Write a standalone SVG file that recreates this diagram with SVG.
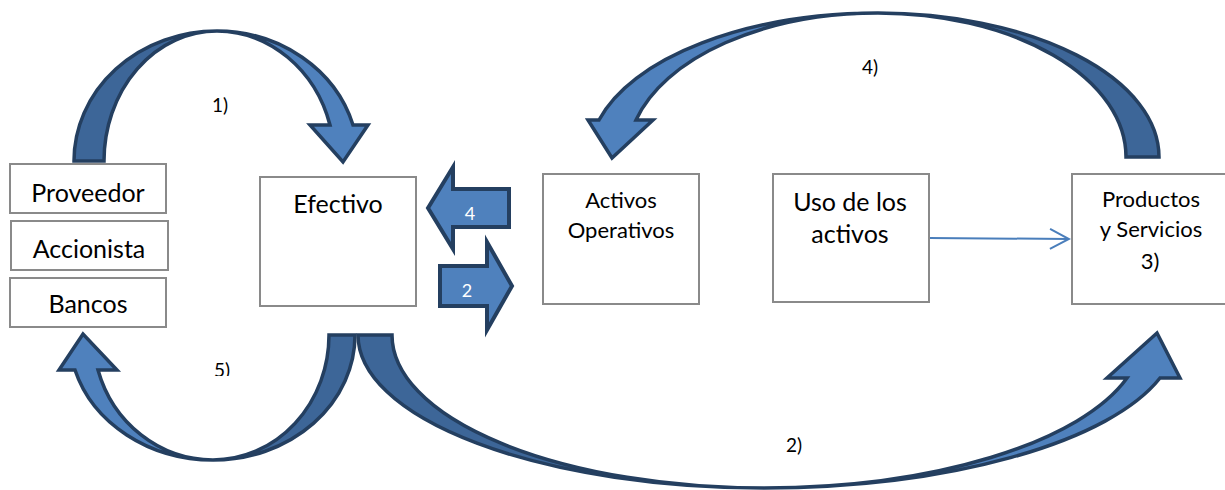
<svg xmlns="http://www.w3.org/2000/svg" width="1225" height="490" viewBox="0 0 1225 490">
<style>
.box{fill:#fff;stroke:#8a8a8a;stroke-width:2}
.t{font-family:Lato,"Liberation Sans",sans-serif;fill:#000;text-anchor:middle}
.big{font-size:25px}
.mid{font-size:22px}
.lbl{font-size:19px}
.back{fill:#3d6698;stroke:#243f60;stroke-width:3.5;stroke-linejoin:miter}
.front{fill:#4f81bd;stroke:#243f60;stroke-width:3.5;stroke-linejoin:miter}
.blk{fill:#4f81bd;stroke:#243f60;stroke-width:4;stroke-linejoin:miter}
.w{font-family:Lato,"Liberation Sans",sans-serif;font-size:18px;fill:#fff;text-anchor:middle}
</style>
<defs>
<marker id="open" markerWidth="22" markerHeight="24" refX="20" refY="12" orient="auto" markerUnits="userSpaceOnUse">
<path d="M1,2 L20,12 L1,22" fill="none" stroke="#4a7ebb" stroke-width="2"/>
</marker>
<clipPath id="clip5"><rect x="190" y="340" width="60" height="36"/></clipPath>
</defs>
<g id="connectors">
<g id="arrow1">
<path class="back" d="M74,161 A143,130 0 0 1 217,31 A113,130 0 0 0 104,161 Z"/>
<path class="front" d="M217,31 A142,130 0 0 1 353,125 L368,125 L343,162 L310,125 L330,125 A118,130 0 0 0 217,31 Z"/>
</g>
<g id="arrow4">
<path class="back" d="M1159,157 A281,144 0 0 0 878,13 A248,144 0 0 1 1126,157 Z"/>
<path class="front" d="M878,13 A289,144 0 0 0 599,120 L588,120 L612,158 L653,120 L636,120 A250,144 0 0 1 878,13 Z"/>
</g>
<g id="arrow5">
<path class="back" d="M355,335 A142,125 0 0 1 213,460 A116,125 0 0 0 329,335 Z"/>
<path class="front" d="M213,460 A144,125 0 0 1 75,370 L59,370 L83,334 L117,370 L98,370 A120,125 0 0 0 213,460 Z"/>
</g>
<g id="arrow2">
<path class="back" d="M358,335 A406,153 0 0 0 764,488 A372,153 0 0 1 392,335 Z"/>
<path class="front" d="M764,488 A413,153 0 0 0 1160,378 L1180,378 L1157,333 L1107,378 L1127,378 A378,153 0 0 1 764,488 Z"/>
</g>
<g id="arrowL4">
<path class="blk" d="M428,208 L453,167 L453,189 L509,189 L509,227 L453,227 L453,249 Z"/>
<text class="w" x="470" y="220">4</text>
</g>
<g id="arrowR2">
<path class="blk" d="M440,266 L487,266 L487,242 L512,286 L487,330 L487,306 L440,306 Z"/>
<text class="w" x="467" y="297">2</text>
</g>
<line x1="929" y1="238" x2="1069" y2="239" stroke="#4a7ebb" stroke-width="2" marker-end="url(#open)"/>
<text class="t lbl" x="220" y="112">1)</text>
<text class="t lbl" x="870" y="74">4)</text>
<text class="t lbl" x="222" y="377" clip-path="url(#clip5)">5)</text>
<text class="t lbl" x="794" y="452">2)</text>
</g>
<g id="proveedor">
<rect class="box" x="10" y="164" width="156" height="49"/>
<text class="t big" x="88" y="202">Proveedor</text>
</g>
<g id="accionista">
<rect class="box" x="11" y="221" width="157" height="49"/>
<text class="t big" x="89" y="258">Accionista</text>
</g>
<g id="bancos">
<rect class="box" x="10" y="278" width="156" height="49"/>
<text class="t big" x="88" y="313">Bancos</text>
</g>
<g id="efectivo">
<rect class="box" x="260" y="177" width="156" height="129"/>
<text class="t big" x="338" y="213">Efectivo</text>
</g>
<g id="activos">
<rect class="box" x="543" y="174" width="156" height="130"/>
<text class="t mid" x="621" y="208">Activos</text>
<text class="t mid" x="621" y="238">Operativos</text>
</g>
<g id="uso">
<rect class="box" x="773" y="174" width="156" height="128"/>
<text class="t big" x="850" y="211">Uso de los</text>
<text class="t big" x="850" y="243">activos</text>
</g>
<g id="productos">
<rect class="box" x="1072" y="174" width="156" height="130"/>
<text class="t mid" x="1151" y="207">Productos</text>
<text class="t mid" x="1151" y="237">y Servicios</text>
<text class="t mid" x="1150" y="269">3)</text>
</g>
</svg>
